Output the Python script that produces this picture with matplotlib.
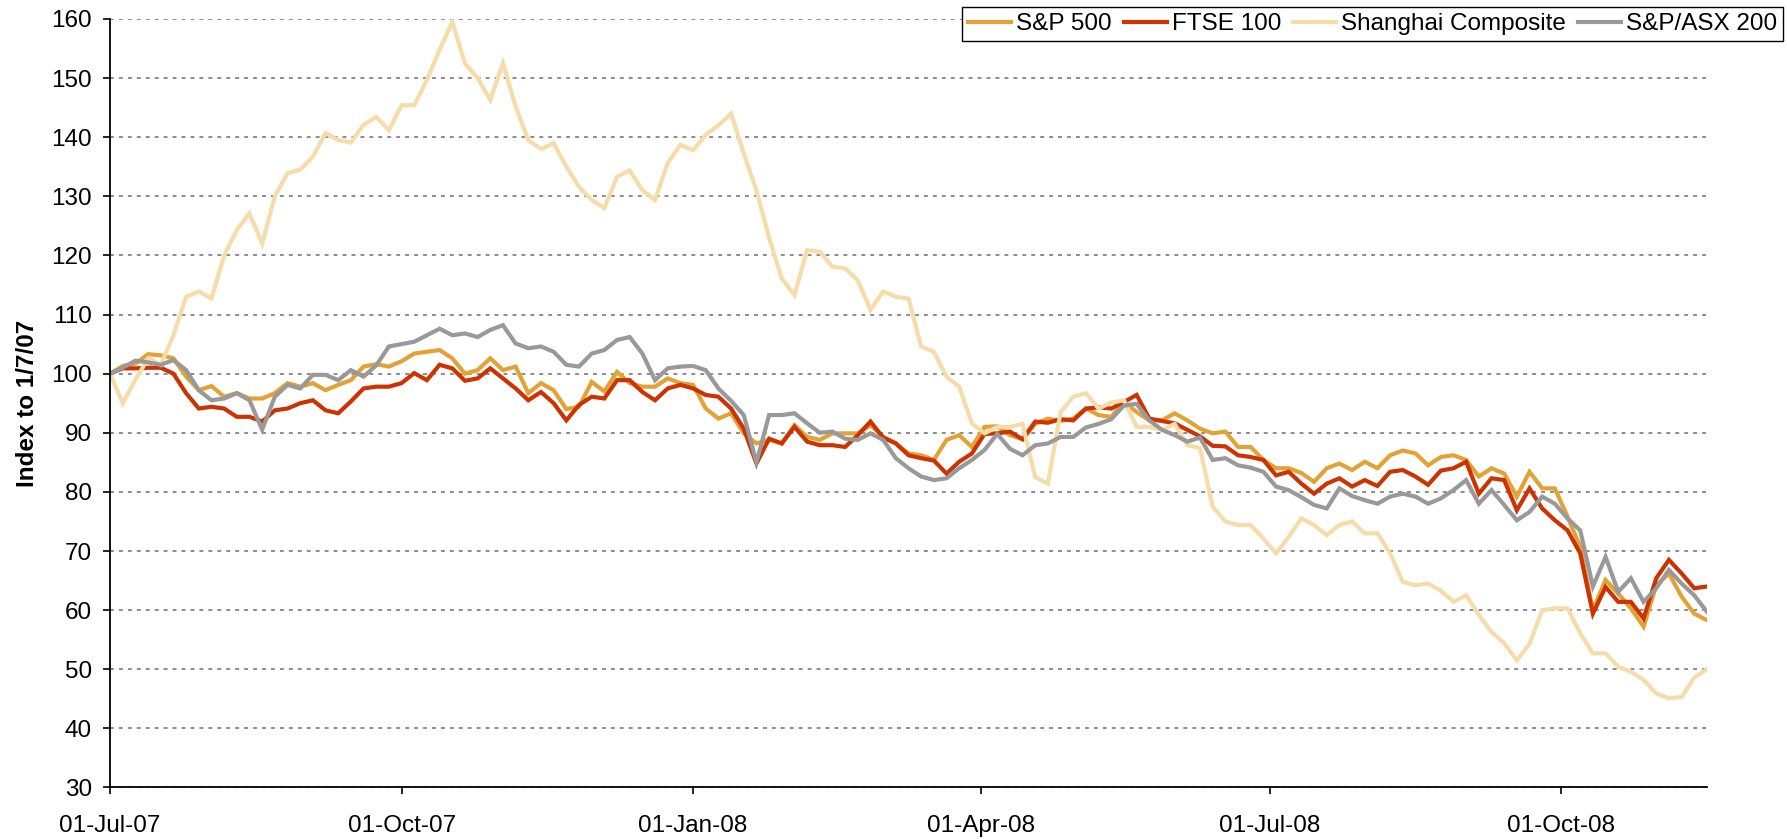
"""Index performance of major equity markets, rebased to 1 July 2007.
Redraws the chart as out.png (1787x839).
"""
import matplotlib
matplotlib.use("Agg")
import matplotlib.pyplot as plt
import matplotlib.dates as mdates
import pandas as pd

# observation dates: every 4 days from 1 Jul 2007
START = "2007-07-01"
N_POINTS = 127

SERIES_NAMES = ["S&P 500", "FTSE 100", "Shanghai Composite", "S&P/ASX 200"]
COLORS = ["#E3A235", "#CC3300", "#F5DCA8", "#999999"]

sp500 = [
    100, 101.3, 101.7, 103.3, 103.1, 102.6, 99.5, 97.2, 97.9, 96.1,
    96.7, 95.8, 95.8, 96.7, 98.4, 97.8, 98.4, 97.2, 98.1, 98.9,
    101.2, 101.6, 101.2, 102.1, 103.4, 103.7, 104, 102.6, 100, 100.6,
    102.6, 100.6, 101.2, 96.7, 98.4, 97.2, 94, 94.4, 98.6, 97,
    100.3, 98.4, 97.8, 97.8, 99.2, 98.4, 98.1, 94.1, 92.4, 93.3,
    89.9, 88.2, 88.8, 88.2, 91.3, 89.3, 88.8, 89.9, 89.9, 89.9,
    91.3, 89.3, 88.2, 86.5, 86.2, 85.4, 88.8, 89.6, 87.6, 91,
    91.1, 89.6, 88.9, 91.5, 92.4, 92, 92.4, 94.1, 93, 92.7,
    95.2, 93.5, 92.1, 92.1, 93.3, 92.1, 90.7, 89.9, 90.2, 87.6,
    87.6, 85.4, 84, 84, 83.2, 81.7, 84, 84.8, 83.7, 85.1,
    84, 86.2, 87, 86.5, 84.5, 85.9, 86.2, 85.4, 82.6, 84,
    83.1, 79.2, 83.4, 80.6, 80.6, 75.8, 70.7, 60, 65.1, 62.8,
    60.3, 57.2, 64.2, 66.2, 62.3, 59.4, 58.3,
]
ftse100 = [
    100, 100.9, 100.9, 101, 101, 100, 96.7, 94.1, 94.4, 94.1,
    92.7, 92.7, 91.9, 93.8, 94.1, 95, 95.5, 93.8, 93.3, 95.3,
    97.5, 97.8, 97.8, 98.4, 100.1, 98.9, 101.5, 100.9, 98.8, 99.2,
    100.9, 99.2, 97.5, 95.5, 96.9, 95, 92.1, 94.7, 96.1, 95.8,
    98.9, 98.9, 96.9, 95.5, 97.5, 98.1, 97.5, 96.4, 96.1, 94.1,
    90.7, 84.8, 89, 88.2, 91, 88.5, 87.9, 87.9, 87.6, 89.6,
    91.9, 89.2, 88.2, 86.2, 85.7, 85.3, 83.1, 85.1, 86.5, 89.8,
    89.9, 90.2, 88.9, 91.9, 91.7, 92.3, 92.1, 94.1, 94.3, 94.1,
    95.2, 96.4, 92.4, 92, 91.6, 90.5, 89.4, 87.8, 87.7, 86.2,
    85.9, 85.4, 82.8, 83.4, 81.4, 79.7, 81.4, 82.3, 80.9, 82,
    81, 83.4, 83.7, 82.6, 81.2, 83.6, 84, 85.1, 79.7, 82.3,
    82, 76.9, 80.6, 77.2, 75.2, 73.5, 69.6, 59.4, 63.9, 61.4,
    61.4, 58.6, 65.4, 68.5, 66.2, 63.7, 64,
]
shanghai = [
    100, 95, 99, 102.6, 101.5, 106.5, 113, 113.9, 112.7, 120,
    124.3, 127.1, 122, 130, 133.9, 134.5, 136.7, 140.7, 139.5, 139.1,
    142.1, 143.4, 141.2, 145.4, 145.4, 149.7, 154.8, 159.5, 152.5, 150,
    146.3, 152.5, 145.2, 139.5, 138, 139, 135, 131.6, 129.4, 128,
    133.3, 134.4, 131, 129.4, 135.6, 138.7, 137.8, 140.4, 142, 144,
    137.3, 131, 123, 116.1, 113.3, 120.9, 120.6, 118.1, 117.8, 115.8,
    110.8, 113.9, 113, 112.7, 104.6, 103.7, 99.5, 97.8, 91.6, 89.9,
    91, 91, 91.5, 82.5, 81.4, 93.5, 96.1, 96.7, 94.1, 95.1,
    95.5, 91, 91, 90.5, 91.5, 87.9, 87.4, 77.5, 75, 74.4,
    74.4, 72.1, 69.6, 72.4, 75.5, 74.4, 72.7, 74.4, 75, 73,
    73, 69.6, 64.8, 64.2, 64.5, 63.3, 61.4, 62.5, 59.2, 56.3,
    54.4, 51.5, 54.3, 60, 60.3, 60.3, 56.1, 52.7, 52.7, 50.4,
    49.6, 48.2, 45.9, 45.1, 45.3, 48.6, 50,
]
asx200 = [
    100, 101, 102.2, 101.9, 101.5, 102.3, 100.6, 97.2, 95.5, 95.8,
    96.7, 95.5, 90.5, 96.1, 98.1, 97.5, 99.8, 99.8, 98.9, 100.6,
    99.5, 101.4, 104.6, 105, 105.4, 106.5, 107.6, 106.5, 106.8, 106.2,
    107.4, 108.2, 105.1, 104.3, 104.6, 103.7, 101.5, 101.2, 103.4, 104,
    105.7, 106.2, 103.4, 98.9, 100.9, 101.2, 101.3, 100.6, 97.5, 95.4,
    93, 85, 93, 93, 93.3, 91.6, 90, 90.2, 89, 88.8,
    89.9, 88.8, 85.7, 84, 82.6, 82, 82.3, 84, 85.4, 87.1,
    89.8, 87.3, 86.2, 87.9, 88.2, 89.3, 89.3, 90.9, 91.5, 92.3,
    94.6, 94.9, 92.1, 90.5, 89.6, 88.5, 89.2, 85.4, 85.7, 84.5,
    84.1, 83.4, 80.9, 80.3, 79.1, 77.8, 77.2, 80.6, 79.3, 78.6,
    78, 79.2, 79.7, 79.2, 78, 78.9, 80.3, 82, 78, 80.3,
    77.8, 75.2, 76.6, 79.2, 78, 75.5, 73.5, 64, 69, 63.1,
    65.4, 61.4, 63.7, 66.8, 64.5, 62.5, 59.7,
]

X_TICKS = ["2007-07-01", "2007-10-01", "2008-01-01", "2008-04-01",
           "2008-07-01", "2008-10-01"]
Y_TICKS = list(range(30, 161, 10))

FONT_SIZE = 17.5


def main():
    plt.rcParams["font.family"] = ["Liberation Sans", "DejaVu Sans"]
    dates = pd.date_range(START, periods=N_POINTS, freq="4D")

    fig = plt.figure(figsize=(17.87, 8.39), dpi=100)
    ax = fig.add_axes([0.0616, 0.0614, 0.8936, 0.916])

    for name, vals, color in zip(SERIES_NAMES, [sp500, ftse100, shanghai, asx200], COLORS):
        ax.plot(dates, vals, color=color, linewidth=3.0, label=name,
                solid_joinstyle="miter")

    ax.set_xlim(dates[0], dates[-1])
    ax.set_ylim(30, 160)
    ax.set_yticks(Y_TICKS)
    ax.set_xticks(pd.to_datetime(X_TICKS))
    ax.xaxis.set_major_formatter(mdates.DateFormatter("%d-%b-%y"))

    # dotted horizontal gridlines
    ax.grid(True, axis="y", color="#8C8C8C", linewidth=1.4,
            linestyle=(0, (2, 2.6)))
    ax.set_axisbelow(True)

    for side in ("top", "right"):
        ax.spines[side].set_visible(False)
    for side in ("left", "bottom"):
        ax.spines[side].set_linewidth(1.3)
        ax.spines[side].set_color("black")

    ax.tick_params(axis="y", direction="out", length=5, width=1.2,
                   labelsize=FONT_SIZE, pad=8)
    ax.tick_params(axis="x", direction="out", length=5, width=1.2,
                   labelsize=FONT_SIZE, pad=15)

    ax.set_ylabel("Index to 1/7/07", fontsize=FONT_SIZE, fontweight="bold",
                  labelpad=9)

    leg = ax.legend(loc="upper right", bbox_to_anchor=(0.9978, 0.9917),
                    bbox_transform=fig.transFigure, ncol=4, fontsize=FONT_SIZE,
                    frameon=True, fancybox=False, framealpha=1,
                    edgecolor="black", borderpad=0.25, columnspacing=0.5,
                    handlelength=1.77, handletextpad=0.2, borderaxespad=0)
    leg.get_frame().set_linewidth(1.0)

    fig.savefig("out.png", dpi=100)
    plt.close(fig)


if __name__ == "__main__":
    main()
